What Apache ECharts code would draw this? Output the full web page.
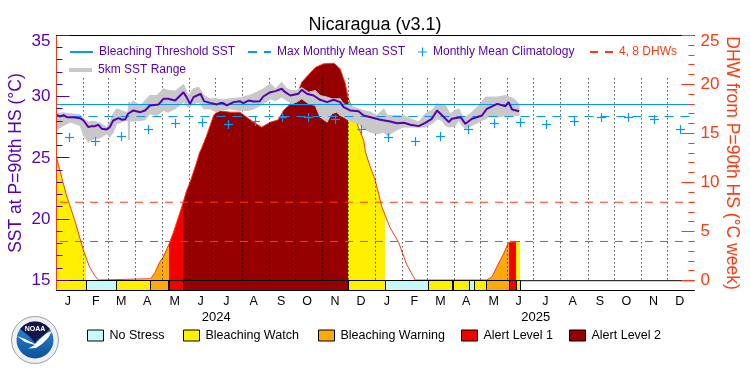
<!DOCTYPE html>
<html><head><meta charset="utf-8">
<style>html,body{margin:0;padding:0;background:#fff}#c{width:750px;height:375px}</style>
<script src="https://cdn.jsdelivr.net/npm/echarts@6/dist/echarts.min.js"></script>
</head><body><div id="c"></div>
<script>
// ---- data (x values are days since 2024-01-01) ----
var monthStarts=[0,31,60,91,121,152,182,213,244,274,305,335,366,397,425,456,486,517,547,578,609,639,670,700,731];
var monthMids=[13,45,74,104,135.5,165,194.5,226,257.5,287,319,349,378.5,410,440,469.5,501,529.5,560,591.5,622.5,653,684,714];
var monthLabels=['J','F','M','A','M','J','J','A','S','O','N','D','J','F','M','A','M','J','J','A','S','O','N','D'];
var yearMids=[183,549];
var yearLabels=['2024','2025'];
var sstTicks=[15,20,25,30,35];
var dhwTicks=[0,5,10,15,20,25];
var sstMinorTicks=[16,17,18,19,21,22,23,24,26,27,28,29,31,32,33,34];
var dhwMinorTicks=[1,2,3,4,6,7,8,9,11,12,13,14,16,17,18,19,21,22,23,24];

var sstDays=[0,4,8,12,19,27,31,36.5,40,44,48,52,57.5,61,65,71,75,79,82,88,96,101.5,107,117,122.5,128,136,145.5,149,153,157,161,165,169,176,184,187.5,191,195,203,210,214,220,226,233,237,245,251,258,262,268,277,281,287,294.5,302,310,317.5,325,329,336.5,346,352,360,371,382.5,390,398,405.5,415,422.5,430,436,442,449.5,453,463,468.5,476,487.5,493,505,514.5,518,522,530];
var sstMean=[28.52,28.39,28.5,28.33,28.33,28.25,28.06,27.52,27.6,27.6,27.71,27.38,27.33,27.52,28.06,28.25,28.12,28.17,28.61,28.88,28.74,28.88,29.29,29.37,29.83,29.83,29.69,30.37,29.97,29.42,29.97,30.1,30.24,29.64,29.5,29.37,29.48,29.48,29.29,29.56,29.64,29.48,29.69,29.61,29.64,30.02,30.37,30.46,30.65,30.37,30.1,30.24,30.56,30.24,30.1,29.75,29.56,29.75,29.56,29.15,28.88,28.82,28.47,28.33,28.12,27.98,27.84,27.87,27.71,27.6,27.87,28.2,28.88,28.47,27.93,28.2,28.33,27.79,28.2,28.47,29.01,29.42,29.23,29.56,28.96,28.82];
var rangeDays=[0,8,16,27,31,36.5,42,50,57.5,61,65,69,79,82,83,84,88,96,101.5,107,115,122.5,128,136,145.5,151,157,163,169,176,184,187.5,199,210.5,220,226,237,245,251,258,264,270,275,281,289,296.5,302,310,315.5,321,325,329,335,340.5,346,352,360,367,375,379,390,398,405.5,415,422.5,430,436,442,445.5,451,457,461,465,468.5,476,484,491.5,497,505,514.5,524,530];
var sstHigh=[28.61,28.69,28.61,28.52,28.2,27.93,28.01,27.84,27.52,27.93,28.61,29.01,28.74,28.74,29.56,29.42,29.64,29.29,29.69,30.1,30.1,30.65,30.51,30.46,31.0,30.1,30.65,30.78,30.1,29.83,29.83,29.75,29.83,29.91,30.1,30.24,30.65,31.05,30.65,31.19,30.65,30.51,30.51,30.73,30.37,30.51,30.1,29.97,29.83,29.83,29.83,29.42,29.29,29.15,29.01,28.88,28.74,28.47,29.01,28.47,28.47,28.47,28.2,27.93,28.61,28.88,29.42,29.29,29.29,28.61,28.88,29.01,28.47,28.33,28.74,29.29,29.97,29.97,29.97,30.1,29.83,29.42];
var sstLow=[27.3,27.65,27.93,27.65,26.84,26.29,26.56,26.65,26.97,26.7,27.11,27.79,28.06,28.06,26.48,28.01,28.01,28.06,28.12,28.61,28.47,28.88,28.74,29.01,29.56,29.15,29.42,29.56,29.01,29.01,28.74,28.88,29.01,28.88,28.88,29.01,29.42,29.83,29.69,29.97,29.69,29.42,29.56,29.83,29.42,29.29,28.33,27.93,28.61,28.74,28.47,28.33,28.06,27.93,27.79,27.38,27.11,26.97,27.11,26.84,27.3,27.52,27.52,27.52,27.52,27.79,28.2,28.06,27.65,27.52,27.65,28.06,27.65,27.38,27.65,27.93,28.2,28.47,28.33,28.47,28.47,28.47];
var dhwDays=[0,4,11,21,31,38,44,48,50,108,113,118,122,129,134,144,149,153,160,164,166,172,180,185,199,210,218,226,235,245,254,260,268,273,281,289,297,306,318,325,331,334,339,346,352,354,359,365,373,382,392,401,411,412,493,499,505,512,518,519,531];
var dhwValues=[12.59,11.2,8.84,6.12,3.06,1.36,0.5,0.07,0,0.2,0.85,1.87,2.38,3.74,4.93,7.65,9.18,10.03,11.9,13.1,13.44,14.8,16.84,17.35,17.18,17.18,16.67,16.16,15.65,16.16,16.4,17.35,18.03,18.37,20.24,21.02,21.77,22.11,22.18,21.6,20.07,18.7,17.5,15.65,14.29,13.1,11.73,10.3,7.48,5.44,3.9,1.7,0.07,0,0.07,0.4,1.5,2.7,3.9,4,4];
var climDays=[14.5,45,74,105,136.5,167,197,228.5,259,289,319.5,350,380.5,411.5,440.5,471.5,501.5,532,561.5,593,625,655.5,685.5,715.5];
var climValues=[26.65,26.37,26.76,27.35,27.84,27.93,27.73,28.0,28.33,28.33,28.12,27.35,26.65,26.37,26.76,27.35,27.84,27.93,27.73,28.0,28.33,28.33,28.12,27.35];
var bleachingThreshold=29.366, maxMonthlyMean=28.386, dhwLevels=[4,8];
var statusStarts=[0,34,69,108,129,145,334,376,426,453,455,473,479,493,519,527];
var statusEnds=[34,69,108,129,145,334,376,426,453,455,473,479,493,519,527,531.5];
var statusLevels=[1,0,1,2,3,4,1,0,1,0,1,0,1,2,3,1];
var statusNames=['No Stress','Bleaching Watch','Bleaching Warning','Alert Level 1','Alert Level 2'];
var statusColors=['#c6fafa','#fff000','#fba90b','#f20000','#960000'];

// ---- styles ----
var PURPLE='#5500b5', ORANGE='#ff3a10', BLUE='#0099ff', GREY='#c8c8c8';
var FONT='Liberation Sans';
var PLUS='path://M4 0h1v4h4v1H5v4H4V5H0V4h4z';
function zip(a,b){return a.map(function(v,i){return [v,b[i]];});}
var XMAX=731, SMIN=14.18, SMAX=35, DMIN=-1, DMAX=25;

var statusSeries=statusNames.map(function(n,k){
  var rows=[];
  statusLevels.forEach(function(l,i){ if(l===k) rows.push([statusStarts[i],statusEnds[i]]); });
  return {type:'custom',name:n,yAxisIndex:1,z:5,itemStyle:{color:statusColors[k]},
    data:rows,encode:{x:[0,1]},clip:false,
    renderItem:function(p,api){
      var a=api.coord([api.value(0),0]), b=api.coord([api.value(1),DMIN]);
      return {type:'rect',shape:{x:Math.floor(a[0])+.5,y:Math.floor(a[1])+.5,width:Math.round(b[0]-a[0]),height:Math.round(b[1]-a[1])},
        style:{fill:statusColors[k],stroke:'#000',lineWidth:1}};
    }};
});
var areaPieces=statusLevels.map(function(l,i){
  return {gte:statusStarts[i],lt:statusEnds[i]+(i===statusLevels.length-1?1:0),color:l===0?'rgba(255,255,255,0)':statusColors[l]};
});
var rangeRows=rangeDays.slice(0,-1).map(function(d,i){
  return [d,sstLow[i],sstHigh[i],rangeDays[i+1],sstLow[i+1],sstHigh[i+1]];
});
function tickSeries(name,axisIdx,values,edge,dir,len,color){
  return {type:'custom',name:name,yAxisIndex:axisIdx,data:values,encode:{y:0},z:12,clip:false,silent:true,
    renderItem:function(p,api){
      var c=api.coord([edge,api.value(0)]), y=Math.floor(c[1])+.5;
      return {type:'line',shape:{x1:c[0],y1:y,x2:c[0]+dir*len,y2:y},style:{stroke:color,lineWidth:1}};
    }};
}
var series=[
 {type:'line',name:'DHW fill',yAxisIndex:1,data:zip(dhwDays,dhwValues),showSymbol:false,symbol:'none',silent:true,z:2,
  lineStyle:{width:0},areaStyle:{opacity:1,origin:0}},
 {type:'line',name:'Degree Heating Weeks',yAxisIndex:1,data:zip(dhwDays,dhwValues),symbol:'none',silent:true,z:3,
  lineStyle:{color:ORANGE,width:1}},
 {type:'custom',name:'Month dots',yAxisIndex:0,z:4,data:monthStarts.slice(1,-1),encode:{x:0},silent:true,
  renderItem:function(p,api){
    var a=api.coord([api.value(0),31.5]), b=api.coord([api.value(0),15]);
    var x=Math.floor(a[0])+.5;
    return {type:'line',shape:{x1:x,y1:a[1],x2:x,y2:b[1]},style:{stroke:'#000',lineWidth:1,lineDash:[1,3]}};
  }},
 {type:'custom',name:'5km SST Range',yAxisIndex:0,data:rangeRows,encode:{x:[0,3],y:[1,2,4,5]},itemStyle:{color:GREY},z:6,silent:true,
  renderItem:function(p,api){
    var v=[0,1,2,3,4,5].map(function(d){return api.value(d);});
    var pts=[api.coord([v[0],v[1]]),api.coord([v[3],v[4]]),api.coord([v[3],v[5]]),api.coord([v[0],v[2]])];
    return {type:'polygon',shape:{points:pts},style:{fill:GREY,stroke:GREY,lineWidth:1}};
  }},
 {type:'line',name:'Max Monthly Mean SST',yAxisIndex:0,data:[[0,maxMonthlyMean],[XMAX,maxMonthlyMean]],symbol:'none',z:7,
  lineStyle:{color:BLUE,width:1,type:[9,7]},itemStyle:{color:BLUE}},
 {type:'custom',name:'Monthly Mean Climatology',yAxisIndex:0,data:zip(climDays,climValues),encode:{x:0,y:1},itemStyle:{color:BLUE},z:7,silent:true,
  renderItem:function(p,api){
    var c=api.coord([api.value(0),api.value(1)]), x=Math.floor(c[0])+.5, y=Math.floor(c[1])+.5;
    return {type:'group',children:[
      {type:'line',shape:{x1:x-4.5,y1:y,x2:x+4.5,y2:y},style:{stroke:BLUE,lineWidth:1.2}},
      {type:'line',shape:{x1:x,y1:y-4.5,x2:x,y2:y+4.5},style:{stroke:BLUE,lineWidth:1.2}}]};
  }},
 {type:'line',name:'Bleaching Threshold SST',yAxisIndex:0,data:[[0,bleachingThreshold],[XMAX,bleachingThreshold]],symbol:'none',z:7,
  lineStyle:{color:BLUE,width:1.2},itemStyle:{color:BLUE}},
 {type:'line',name:'SST',yAxisIndex:0,data:zip(sstDays,sstMean),symbol:'none',z:8,
  lineStyle:{color:PURPLE,width:2}},
 tickSeries('SST major ticks',0,sstTicks,0,1,13,PURPLE),
 tickSeries('SST minor ticks',0,sstMinorTicks,0,1,6,PURPLE),
 tickSeries('DHW major ticks',1,dhwTicks,XMAX,-1,13,ORANGE),
 tickSeries('DHW minor ticks',1,dhwMinorTicks,XMAX,-1,6,ORANGE)
].concat(dhwLevels.map(function(v,i){
  return {type:'line',name:i?'DHW 8':'4, 8 DHWs',yAxisIndex:1,data:[[4,v],[XMAX,v]],symbol:'none',z:7,
    lineStyle:{color:ORANGE,width:1,type:[8,7]},itemStyle:{color:ORANGE}};
})).concat([{type:'line',name:'zero',yAxisIndex:1,data:[[0,0],[XMAX,0]],symbol:'none',z:4,lineStyle:{color:'#000',width:1}}]).concat(statusSeries);

function lg(name,left,top,color,opt){
  var o={show:true,left:left,top:top,itemWidth:23,itemHeight:10,selectedMode:false,padding:0,z:20,
    itemStyle:{opacity:0},
    data:[name],textStyle:{color:color,fontFamily:FONT,fontSize:12,padding:[0,0,0,1]}};
  for(var k in opt) o[k]=opt[k];
  return o;
}
var legends=[
 lg('Bleaching Threshold SST',69,46,PURPLE),
 lg('Max Monthly Mean SST',247,46,PURPLE),
 lg('Monthly Mean Climatology',418,46,PURPLE,{itemWidth:9,itemHeight:9,itemStyle:{},data:[{name:'Monthly Mean Climatology',icon:PLUS}]}),
 lg('4, 8 DHWs',589,46,ORANGE),
 lg('5km SST Range',69,64,PURPLE,{itemHeight:4,icon:'rect',itemStyle:{}})
];
var swatchLeft=[87,183,318,461,569];
statusNames.forEach(function(n,i){
  legends.push({show:true,left:swatchLeft[i],top:329,itemWidth:16,itemHeight:11,selectedMode:false,padding:0,z:20,
   data:[{name:n,icon:'rect',itemStyle:{color:statusColors[i],borderColor:'#000',borderWidth:1}}],
   textStyle:{color:'#000',fontFamily:FONT,fontSize:12.5,padding:[0,0,0,1]}});
});

var option={
 animation:false,backgroundColor:'#fff',
 title:{text:'Nicaragua (v3.1)',left:'center',top:16,padding:0,textStyle:{color:'#000',fontFamily:FONT,fontWeight:'normal',fontSize:18}},
 grid:{left:56.5,right:55.5,top:35.5,height:255,containLabel:false,outerBoundsMode:'none'},
 legend:legends,
 visualMap:[{type:'piecewise',show:false,seriesIndex:0,dimension:0,pieces:areaPieces,outOfRange:{color:'rgba(255,255,255,0)'}}],
 xAxis:[
  {type:'value',min:0,max:XMAX,position:'bottom',z:10,axisLine:{onZero:false,lineStyle:{color:'#000',width:1}},axisTick:{show:false},splitLine:{show:false},
   axisLabel:{customValues:monthMids,margin:5,color:'#000',fontFamily:FONT,fontSize:12.5,
     formatter:function(v){return monthLabels[monthMids.indexOf(v)];}}},
  {type:'value',min:0,max:XMAX,position:'top',z:10,axisLine:{onZero:false,lineStyle:{color:'#000',width:1}},axisTick:{show:false},splitLine:{show:false},axisLabel:{show:false}},
  {type:'value',min:0,max:XMAX,position:'bottom',offset:20,z:10,axisLine:{show:false},axisTick:{show:false},splitLine:{show:false},
   axisLabel:{customValues:yearMids,margin:0,color:'#000',fontFamily:FONT,fontSize:13,
     formatter:function(v){return yearLabels[yearMids.indexOf(v)];}}}
 ],
 yAxis:[
  {type:'value',min:SMIN,max:SMAX,position:'left',z:10,name:'SST at P=90th HS (°C)',nameLocation:'middle',nameGap:31,nameRotate:90,nameMoveOverlap:false,
   nameTextStyle:{color:PURPLE,fontFamily:FONT,fontSize:17.5},
   axisLine:{show:true,lineStyle:{color:PURPLE,width:1}},
   axisTick:{show:false},splitLine:{show:false},
   axisLabel:{customValues:sstTicks,margin:6,color:PURPLE,fontFamily:FONT,fontSize:17,lineHeight:11,verticalAlignMaxLabel:'top'}},
  {type:'value',min:DMIN,max:DMAX,position:'right',z:10,name:'DHW from P=90th HS (°C week)',nameLocation:'middle',nameGap:28,nameRotate:-90,nameMoveOverlap:false,
   nameTextStyle:{color:ORANGE,fontFamily:FONT,fontSize:17.5},
   axisLine:{show:true,lineStyle:{color:ORANGE,width:1}},
   axisTick:{show:false},splitLine:{show:false},
   axisLabel:{customValues:dhwTicks,margin:6,color:ORANGE,fontFamily:FONT,fontSize:17,lineHeight:11,verticalAlignMaxLabel:'top'}}
 ],
 series:series,
 graphic:[
  {type:'group',left:11,top:316,children:[
   {type:'circle',shape:{cx:24,cy:24,r:23.5},style:{fill:'#eef0f2',stroke:'#9aa0a8',lineWidth:1}},
   {type:'circle',shape:{cx:24,cy:24,r:18.5},style:{fill:{type:'linear',x:0,y:0,x2:0,y2:1,colorStops:[{offset:0,color:'#2f8fd0'},{offset:1,color:'#0b4f9e'}]}}},
   {type:'polygon',shape:{points:[[9,13],[13,9],[19,6],[24,5.5],[29,6],[35,9],[39,13],[34,18],[26,24],[24,27],[18,20]]},style:{fill:'#151548'}},
   {type:'polygon',shape:{points:[[6,20],[14,23],[24,28],[30,22],[36,17],[41,15],[37,22],[31,28],[25,32],[17,32.5],[24,29],[14,26]]},style:{fill:'#fff'}},
   {type:'text',style:{x:24,y:13,text:'NOAA',fill:'#fff',font:'bold 7px "Liberation Sans"',align:'center',verticalAlign:'middle'}}
  ]}
 ]
};
var chart=echarts.init(document.getElementById('c'),null,{renderer:'canvas'});
chart.setOption(option);
</script></body></html>
